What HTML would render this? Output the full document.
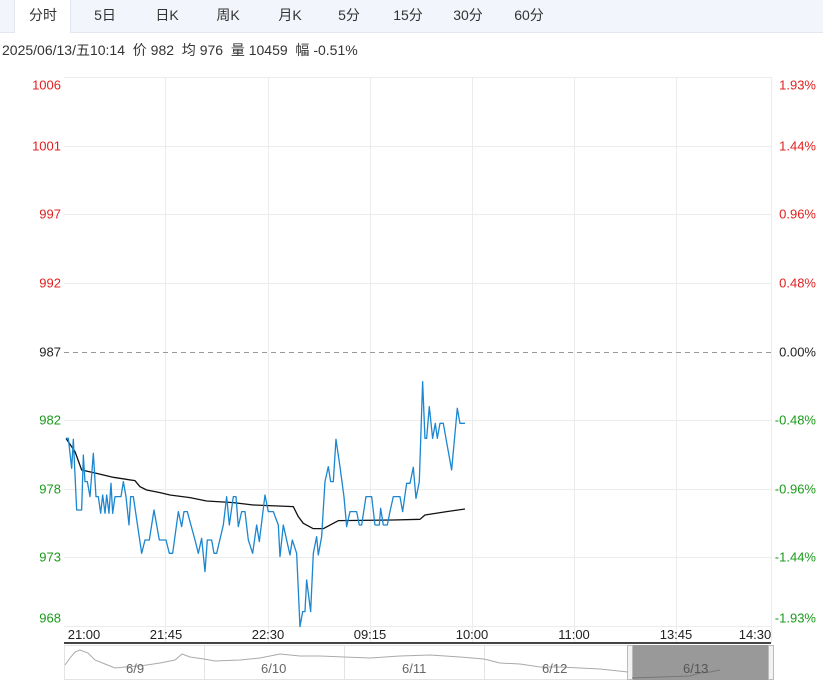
<!DOCTYPE html>
<html><head><meta charset="utf-8"><style>
body{margin:0;width:823px;height:684px;overflow:hidden;background:#fff;font-family:"Liberation Sans","Noto Sans CJK SC",sans-serif;position:relative}
.tabs{position:absolute;left:0;top:0;width:823px;height:32px;background:#f2f5fb;border-bottom:1px solid #e3e8f0}
.tab{position:absolute;top:0;height:32px;line-height:30px;font-size:14px;color:#333;transform:translateX(-50%)}
.sel{position:absolute;left:14px;top:0;width:55px;height:33px;background:#fff;border-left:1px solid #e3e8f0;border-right:1px solid #e3e8f0}
.info{position:absolute;left:2px;top:40px;font-size:14px;color:#333;white-space:pre}
.l{position:absolute;font-size:13px;right:762px;transform:translateY(-50%)}
.r{position:absolute;font-size:13px;right:7px;transform:translateY(-50%)}
.x{position:absolute;top:627px;font-size:13px;color:#222;transform:translateX(-50%)}
</style></head><body>
<div class="tabs"><div class="sel"></div>
<span class="tab" style="left:43px">分时</span><span class="tab" style="left:105px">5日</span><span class="tab" style="left:167px">日K</span><span class="tab" style="left:228px">周K</span><span class="tab" style="left:290px">月K</span><span class="tab" style="left:349px">5分</span><span class="tab" style="left:408px">15分</span><span class="tab" style="left:468px">30分</span><span class="tab" style="left:529px">60分</span></div>
<div class="info">2025/06/13/五10:14  价 982  均 976  量 10459  幅 -0.51%</div>
<svg style="position:absolute;left:0;top:0" width="823" height="684">
<g stroke="#ececec" stroke-width="1">
<line x1="64" y1="77.5" x2="771" y2="77.5"/><line x1="64" y1="146.5" x2="771" y2="146.5"/><line x1="64" y1="214.5" x2="771" y2="214.5"/><line x1="64" y1="283.5" x2="771" y2="283.5"/>
<line x1="64" y1="420.5" x2="771" y2="420.5"/><line x1="64" y1="489.5" x2="771" y2="489.5"/><line x1="64" y1="557.5" x2="771" y2="557.5"/><line x1="64" y1="626.5" x2="771" y2="626.5"/>
<line x1="165.5" y1="77" x2="165.5" y2="643"/><line x1="268.5" y1="77" x2="268.5" y2="643"/><line x1="370.5" y1="77" x2="370.5" y2="643"/><line x1="472.5" y1="77" x2="472.5" y2="643"/><line x1="574.5" y1="77" x2="574.5" y2="643"/><line x1="676.5" y1="77" x2="676.5" y2="643"/><line x1="771.5" y1="77" x2="771.5" y2="643"/>
</g>
<line x1="64" y1="352.5" x2="771" y2="352.5" stroke="#999" stroke-dasharray="5,4"/>
<g transform="translate(60,370) scale(0.3333)" fill="none" stroke-linejoin="round">
<polyline vector-effect="non-scaling-stroke" stroke="#111" stroke-width="1.3" points="18,205 45,245 65,300 110,310 160,322 225,332 240,350 260,360 300,368 330,375 390,383 440,393 520,398 580,405 700,410 715,440 730,460 760,476 790,476 820,460 835,452 1000,450 1080,448 1095,435 1160,425 1215,417"/>
<polyline vector-effect="non-scaling-stroke" stroke="#1a87d0" stroke-width="1.3" points="18,205 25,205 35,295 40,208 50,420 65,420 70,255 75,335 82,335 90,380 100,250 108,380 115,380 122,430 128,375 135,430 140,375 147,430 153,340 158,430 165,380 183,380 190,335 198,380 207,465 212,380 220,380 245,550 255,510 268,510 282,420 290,465 298,510 318,510 328,550 338,550 355,425 365,470 372,425 382,425 405,510 415,550 425,505 435,605 442,510 455,510 462,550 470,550 490,465 500,380 508,465 520,380 528,380 535,470 545,425 555,425 565,510 578,550 590,465 598,515 615,375 625,425 640,425 655,465 660,560 670,465 680,510 690,555 697,510 710,550 720,770 728,725 735,725 740,630 752,725 760,550 770,500 775,555 785,500 795,335 805,290 812,335 820,335 828,208 840,290 852,380 860,470 870,425 890,425 898,465 905,465 918,380 935,380 945,465 958,465 962,415 970,465 982,465 990,425 1000,380 1020,380 1028,425 1040,340 1050,340 1060,292 1068,385 1078,335 1088,35 1095,205 1100,205 1108,110 1118,205 1126,160 1132,205 1140,160 1150,160 1158,205 1175,300 1192,115 1200,160 1215,160"/>
</g>
<line x1="64" y1="643" x2="771" y2="643" stroke="#444" stroke-width="2"/>
<rect x="64.5" y="645.5" width="706" height="34" fill="#fff" stroke="#e3e3e3"/>
<g stroke="#e3e3e3"><line x1="204.5" y1="645" x2="204.5" y2="680"/><line x1="344.5" y1="645" x2="344.5" y2="680"/><line x1="484.5" y1="645" x2="484.5" y2="680"/></g>
<rect x="632" y="645" width="136" height="35" fill="#999"/>
<rect x="627.5" y="645.5" width="5" height="34" fill="#f2f2f2" stroke="#bbb"/><rect x="768.5" y="645.5" width="5" height="34" fill="#f2f2f2" stroke="#bbb"/>
<polyline fill="none" stroke="#aaa" stroke-width="1" points="65,665 70,658 75,652 80,650 88,653 95,660 105,664 115,668 125,667 140,666 160,663 175,660 182,654 190,657 204,659 215,661 240,660 260,658 280,654 300,656 320,656 344,657 370,658 400,656 430,655 460,657 484,659 500,663 520,664 540,667 560,667 600,669 628,672"/>
<polyline fill="none" stroke="#777" stroke-width="1" points="632,678 660,677 690,676 700,673 710,672 720,670"/>
<g font-size="13" fill="#666" font-family="Liberation Sans,sans-serif"><text x="126" y="673">6/9</text><text x="261" y="673">6/10</text><text x="402" y="673">6/11</text><text x="542" y="673">6/12</text><text x="683" y="673" fill="#555">6/13</text></g>
</svg>
<span class="l" style="top:85px;color:#e02020">1006</span><span class="l" style="top:146px;color:#e02020">1001</span><span class="l" style="top:214px;color:#e02020">997</span><span class="l" style="top:283px;color:#e02020">992</span><span class="l" style="top:352px;color:#222">987</span><span class="l" style="top:420px;color:#1a9a1a">982</span><span class="l" style="top:489px;color:#1a9a1a">978</span><span class="l" style="top:557px;color:#1a9a1a">973</span><span class="l" style="top:618px;color:#1a9a1a">968</span>
<span class="r" style="top:85px;color:#e02020">1.93%</span><span class="r" style="top:146px;color:#e02020">1.44%</span><span class="r" style="top:214px;color:#e02020">0.96%</span><span class="r" style="top:283px;color:#e02020">0.48%</span><span class="r" style="top:352px;color:#222">0.00%</span><span class="r" style="top:420px;color:#1a9a1a">-0.48%</span><span class="r" style="top:489px;color:#1a9a1a">-0.96%</span><span class="r" style="top:557px;color:#1a9a1a">-1.44%</span><span class="r" style="top:618px;color:#1a9a1a">-1.93%</span>
<span class="x" style="left:84px">21:00</span><span class="x" style="left:166px">21:45</span><span class="x" style="left:268px">22:30</span><span class="x" style="left:370px">09:15</span><span class="x" style="left:472px">10:00</span><span class="x" style="left:574px">11:00</span><span class="x" style="left:676px">13:45</span><span class="x" style="left:755px">14:30</span>
</body></html>
